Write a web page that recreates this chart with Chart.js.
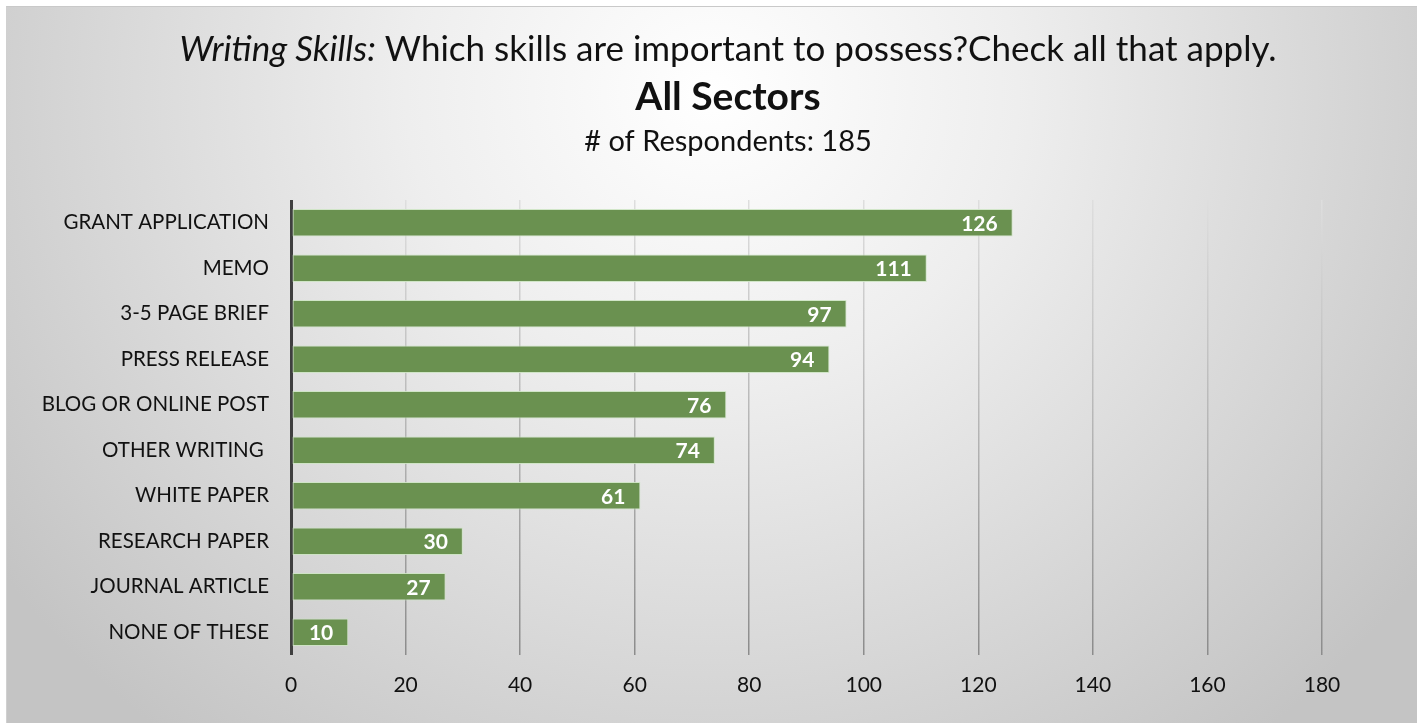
<!DOCTYPE html>
<html>
<head>
<meta charset="utf-8">
<script src="https://cdn.jsdelivr.net/npm/chart.js@4/dist/chart.umd.min.js"></script>
<style>
  html, body { margin: 0; padding: 0; background: #fff; }
  #wrap { position: relative; width: 1417px; height: 723px; overflow: hidden; }
  #panel {
    position: absolute; left: 6px; top: 6px; right: 0; bottom: 0;
    border-top: 1px solid #c9c9c9; border-left: 1px solid #d0d0d0;
    background: radial-gradient(ellipse 62% 115% at 50% 12%, #ffffff 0%, #eeeeee 35%, #c4c4c4 100%);
  }
  canvas { position: absolute; left: 0; top: 0; }
</style>
</head>
<body>
<div id="wrap">
  <div id="panel"></div>
  <canvas id="c" width="1417" height="723"></canvas>
</div>
<script>
// Survey responses: writing skills considered important (all sectors)
const categories = [
  'GRANT APPLICATION', 'MEMO', '3-5 PAGE BRIEF', 'PRESS RELEASE', 'BLOG OR ONLINE POST',
  'OTHER WRITING ', 'WHITE PAPER', 'RESEARCH PAPER', 'JOURNAL ARTICLE', 'NONE OF THESE'
];
const respondents = [126, 111, 97, 94, 76, 74, 61, 30, 27, 10];
const xTicks = [0, 20, 40, 60, 80, 100, 120, 140, 160, 180];

const titleItalic = 'Writing Skills:';
const titleRest = ' Which skills are important to possess?Check all that apply.';
const mainTitle = 'All Sectors';
const subTitle = '# of Respondents: 185';

const FONT = 'Lato, "Open Sans", sans-serif';

// Heading block: mixed italic/upright first line, bold title, respondent count
const headlinePlugin = {
  id: 'headline',
  afterDraw(chart) {
    const ctx = chart.ctx;
    const cx = 728;
    ctx.save();
    ctx.fillStyle = '#111';
    ctx.textBaseline = 'middle';
    const fi = 'italic 35px ' + FONT;
    const fn = '35px ' + FONT;
    ctx.font = fi; const w1 = ctx.measureText(titleItalic).width;
    ctx.font = fn; const w2 = ctx.measureText(titleRest).width;
    const x0 = cx - (w1 + w2) / 2;
    ctx.textAlign = 'left';
    ctx.font = fi; ctx.fillText(titleItalic, x0, 50);
    ctx.font = fn; ctx.fillText(titleRest, x0 + w1, 50);

    ctx.textAlign = 'center';
    ctx.font = 'bold 39px ' + FONT;
    ctx.fillText(mainTitle, cx, 97);
    ctx.font = '29px ' + FONT;
    ctx.fillText(subTitle, cx, 142);
    ctx.restore();
  }
};

// White value labels placed inside the end of each bar
const valueLabels = {
  id: 'valueLabels',
  afterDatasetsDraw(chart) {
    const ctx = chart.ctx;
    const meta = chart.getDatasetMeta(0);
    ctx.save();
    ctx.fillStyle = '#ffffff';
    ctx.font = 'bold 21px ' + FONT;
    ctx.textAlign = 'right';
    ctx.textBaseline = 'middle';
    meta.data.forEach((bar, i) => {
      ctx.fillText(String(chart.data.datasets[0].data[i]), bar.x - 15, bar.y + 1);
    });
    ctx.restore();
  }
};

let gridGrad = null;
function gridColor(c) {
  if (c.tick && c.tick.value === 0) return '#3f3f3f';
  const area = c.chart.chartArea;
  if (!area) return '#a0a0a0';
  if (!gridGrad || gridGrad._top !== area.top) {
    const g = c.chart.ctx.createLinearGradient(0, area.top, 0, area.bottom);
    g.addColorStop(0, '#dedede');
    g.addColorStop(1, '#8c8c8c');
    g._top = area.top;
    gridGrad = g;
  }
  return gridGrad;
}

new Chart(document.getElementById('c'), {
  type: 'bar',
  data: {
    labels: categories,
    datasets: [{
      data: respondents,
      backgroundColor: '#6a9150',
      borderColor: 'rgba(205,228,195,0.9)',
      borderWidth: 1,
      borderSkipped: false,
      barPercentage: 0.6,
      categoryPercentage: 1.0
    }]
  },
  options: {
    indexAxis: 'y',
    responsive: false,
    animation: false,
    layout: { padding: { left: 6, right: 95, top: 200, bottom: 0 } },
    plugins: {
      legend: { display: false },
      tooltip: { enabled: false },
      title: { display: false },
      subtitle: { display: false }
    },
    scales: {
      x: {
        min: 0, max: 180,
        afterBuildTicks(scale) { scale.ticks = xTicks.map(v => ({ value: v })); },
        afterFit(scale) { scale.height = 68; },
        ticks: { color: '#111', font: { family: FONT, size: 21 }, padding: 18 },
        grid: {
          color: gridColor,
          lineWidth: c => (c.tick && c.tick.value === 0 ? 3 : 1.5),
          drawTicks: false
        },
        border: { display: false }
      },
      y: {
        afterFit(scale) { scale.width = 285; },
        ticks: { color: '#111', font: { family: FONT, size: 20.5 }, padding: 14 },
        grid: { display: false },
        border: { display: false }
      }
    }
  },
  plugins: [headlinePlugin, valueLabels]
});
</script>
</body>
</html>
